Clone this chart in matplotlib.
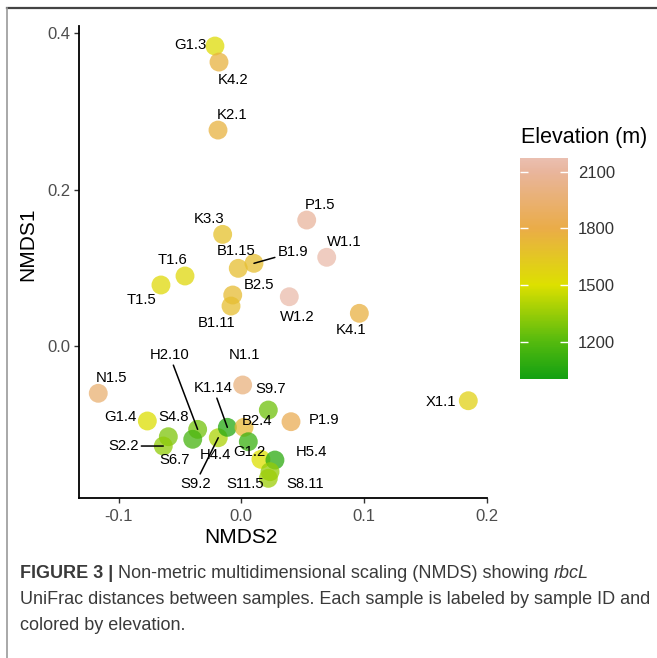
import matplotlib
matplotlib.use("Agg")
import matplotlib.pyplot as plt
from matplotlib.colors import LinearSegmentedColormap, Normalize
from matplotlib.lines import Line2D

plt.rcParams['font.family'] = ['Liberation Sans', 'DejaVu Sans']

# ---- data ----
sample_ids = ["G1.3", "K4.2", "K2.1", "K3.3", "P1.5", "W1.1", "B1.15", "B1.9",
              "T1.6", "T1.5", "B2.5", "B1.11", "W1.2", "K4.1", "X1.1", "N1.5",
              "N1.1", "S9.7", "G1.4", "P1.9", "S4.8", "S2.2", "H2.10", "S6.7",
              "S9.2", "K1.14", "B2.4", "H4.4", "G1.2", "H5.4", "S11.5", "S8.11"]
nmds2 = [-0.0214, -0.0181, -0.0189, -0.0151, 0.0534, 0.0697, -0.0024, 0.0104,
         -0.0458, -0.0654, -0.0069, -0.0083, 0.0392, 0.0963, 0.1851, -0.1165,
         0.0012, 0.0221, -0.0765, 0.0406, -0.0594, -0.0635, -0.0355, -0.0395,
         -0.0187, -0.0113, 0.0023, 0.0058, 0.0161, 0.0275, 0.0235, 0.0221]
nmds1 = [0.3834, 0.3629, 0.2760, 0.1427, 0.1610, 0.1134, 0.0993, 0.1057,
         0.0895, 0.0780, 0.0652, 0.0511, 0.0630, 0.0418, -0.0699, -0.0604,
         -0.0498, -0.0818, -0.0958, -0.0967, -0.1159, -0.1278, -0.1065, -0.1192,
         -0.1172, -0.1039, -0.1039, -0.1223, -0.1448, -0.1457, -0.1606, -0.1691]
elevation = [1530, 1760, 1760, 1680, 2100, 2150, 1700, 1700,
             1550, 1540, 1710, 1700, 2150, 1770, 1590, 1950,
             1990, 1260, 1510, 1840, 1290, 1330, 1270, 1160,
             1390, 1060, 1720, 1120, 1500, 1080, 1340, 1360]
elev_ticks = [1200, 1500, 1800, 2100]

# label offsets in pixels (ggrepel-like placement), True = draw a segment
label_offset = {
    "G1.3": (-25, 1, False), "K4.2": (14, -18, False), "K2.1": (14, 15, False),
    "K3.3": (-14, 15, False), "P1.5": (13, 15, False), "W1.1": (18, 15, False),
    "B1.15": (-2, 17, False), "B1.9": (39, 11, True), "T1.6": (-13, 16, False),
    "T1.5": (-19, -15, False), "B2.5": (26, 10, False), "B1.11": (-14, -17, False),
    "W1.2": (8, -20, False), "K4.1": (-8, -17, False), "X1.1": (-27, -1, False),
    "N1.5": (13, 15, False), "N1.1": (2, 30, False), "S9.7": (2, 21, False),
    "G1.4": (-27, 4, False), "P1.9": (33, 2, False), "S4.8": (5, 20, False),
    "S2.2": (-40, 0, True), "H2.10": (-28, 74, True), "S6.7": (-18, -21, False),
    "S9.2": (-23, -46, True), "K1.14": (-14, 39, True), "B2.4": (13, 6, False),
    "H4.4": (-33, -13, False), "G1.2": (-12, 7, False), "H5.4": (37, 8, False),
    "S11.5": (-25, -12, False), "S8.11": (37, -6, False),
}

W, H = 657, 658
fig = plt.figure(figsize=(W / 100, H / 100), dpi=100)

# colour scale green -> yellow -> orange -> pink
vmin, vmax = 997, 2172
nodes = [(1000, "#12A012"), (1200, "#55BA0E"), (1500, "#DDE000"),
         (1800, "#EAAC48"), (2100, "#E9B59C"), (2172, "#EABFB0")]
cmap = LinearSegmentedColormap.from_list(
    "elev", [((v - 1000) / (vmax - 1000) if v > 1000 else 0.0, c) for v, c in nodes])
norm = Normalize(1000, vmax)

# ------- main panel ------- #
ax = fig.add_axes([79 / W, 1 - 498.3 / H, (486.7 - 79) / W, (498.3 - 26) / H])
sc = ax.scatter(nmds2, nmds1, c=elevation, cmap=cmap, norm=norm, s=185,
                alpha=0.75, edgecolors="none", zorder=3)

for name, x, y in zip(sample_ids, nmds2, nmds1):
    dx, dy, seg = label_offset[name]
    props = None
    if seg:
        props = dict(arrowstyle="-", color="black", lw=1.1, shrinkA=0, shrinkB=0)
    ax.annotate(name, (x, y), xytext=(dx, dy), textcoords="offset pixels",
                ha="center", va="center", fontsize=10.7, color="black",
                arrowprops=props, zorder=4)

ax.set_xlim(-0.1322, 0.2001)
ax.set_ylim(-0.1946, 0.409)
ax.set_xticks([-0.1, 0.0, 0.1, 0.2])
ax.set_xticklabels(["-0.1", "0.0", "0.1", "0.2"])
ax.set_yticks([0.0, 0.2, 0.4])
ax.set_yticklabels(["0.0", "0.2", "0.4"])
for s in ["top", "right"]:
    ax.spines[s].set_visible(False)
for s in ["left", "bottom"]:
    ax.spines[s].set_linewidth(1.3)
    ax.spines[s].set_color("black")
ax.tick_params(length=3.5, width=1, color="#333333", labelsize=12,
               labelcolor="#4D4D4D", pad=2.5)
ax.tick_params(axis="x", pad=4)

ax.set_xlabel("NMDS2", fontsize=15)
ax.xaxis.set_label_coords((241 - 79) / 407.7, (498.3 - 528) / 472.3)
ax.set_ylabel("NMDS1", fontsize=15)
ax.yaxis.set_label_coords((37 - 79) / 407.7, (498.3 - 244) / 472.3)

# ------- colour bar ------- #
cax = fig.add_axes([520 / W, 1 - 380 / H, 48 / W, 222 / H])
cb = fig.colorbar(sc, cax=cax, ticks=elev_ticks)
cb.solids.set_alpha(1)
cb.outline.set_visible(False)
cax.set_ylim(vmin, vmax)
cax.tick_params(direction="in", length=6, width=1, colors="white",
                left=True, right=True, labelsize=12, labelcolor="#333333", pad=7)
fig.text(521 / W, 1 - 138 / H, "Elevation (m)", fontsize=15.5, ha="left", va="center")

# ------- frame + caption ------- #
fig.add_artist(Line2D([7 / W, 1], [1 - 8 / H] * 2, transform=fig.transFigure,
                      color="#444444", lw=1.6))
fig.add_artist(Line2D([7 / W, 7 / W], [0, 1 - 8 / H], transform=fig.transFigure,
                      color="#9A9A9A", lw=1.2))

cap = dict(fontsize=13, color="#3A3A3A", va="baseline")
t1 = fig.text(20 / W, 1 - 578 / H, "FIGURE 3 |", fontweight="bold", **cap)
t2 = fig.text(0, 0, " Non-metric multidimensional scaling (NMDS) showing ", **cap)
t3 = fig.text(0, 0, "rbcL", style="italic", **cap)
fig.canvas.draw()
r = fig.canvas.get_renderer()
x = t1.get_window_extent(r).x1
for t in (t2, t3):
    t.set_position((x / W, 1 - 578 / H))
    x = t.get_window_extent(r).x1
fig.text(20 / W, 1 - 604 / H,
         "UniFrac distances between samples. Each sample is labeled by sample ID and", **cap)
fig.text(20 / W, 1 - 630 / H, "colored by elevation.", **cap)

fig.savefig("out.png", dpi=100)
